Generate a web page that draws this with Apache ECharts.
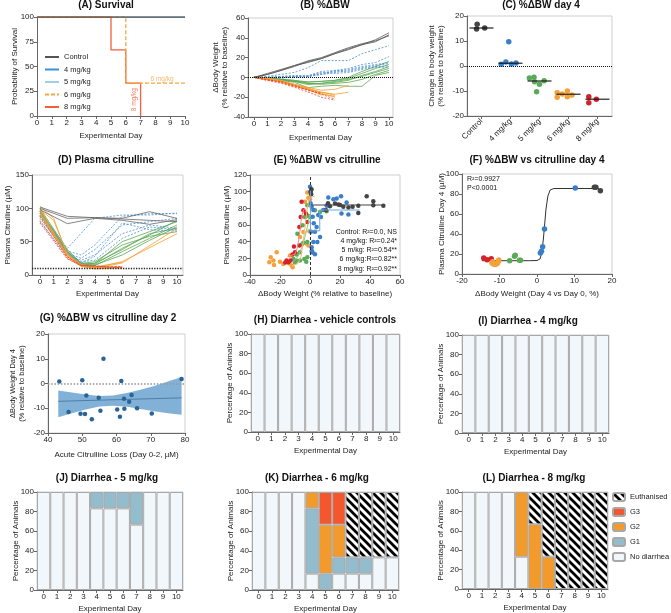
<!DOCTYPE html>
<html><head><meta charset="utf-8">
<script src="https://cdn.jsdelivr.net/npm/echarts@6/dist/echarts.min.js"></script>
<style>html,body{margin:0;padding:0;background:#fff}#c{width:671px;height:613px}</style>
</head><body><div id="c"></div>
<script>
// ---------------- DATA ----------------
// (A) survival
const survCtrl = [[0,100],[10,100]];
const surv4 = [[0,100],[10,100]];
const surv5 = [[0,100],[10,100]];
const surv6 = [[0,100],[6,33.3],[10,33.3]];
const surv8 = [[0,100],[5,66.7],[6,33.3],[7,0]];
const survNames = ['Control','4 mg/kg','5 mg/kg','6 mg/kg','8 mg/kg'];
const survLabel6 = [[8.45,37.4]];
const survLabel8 = [[6.55,16.5]];
const dayTicks = [0,1,2,3,4,5,6,7,8,9,10];

// (B) %ΔBW by day (day 0..n)
const bwCtrl = [
  [0,3,7,11,16,19,24,29,33,38,45],
  [0,4,8,12,16.7,20,25,30,34,37,42],
  [0,3,7,12,15,19,24,28,33,36,43]];
const bw4 = [
  [0,1,3,5,9.8,17,17,17,24,28,32],
  [0,0,1,1,1.8,6,7,9,13,15,21],
  [0,0,0,1,1.3,4,6,8,11,13,15],
  [0,-1,0,0,0.8,3,5,7,10,12,14],
  [0,0,-1,1,0.8,5,4,5,8,10,12],
  [0,0,1,2,1.3,3,7,6,9,11,10]];
const bw5 = [
  [0,-1,-2,-4,-4.8,-4,-3,0,6,11,16],
  [0,-1,-2,-3,-4.5,-4,-3,-1,4,9,13],
  [0,-2,-3,-4,-6.3,-6,-5,-3,2,6,11],
  [0,-1,-2,-4,-7.3,-6,-4,-2,1,5,9],
  [0,-2,-3,-5,-10.3,-9,-8,-9,-9,2,5],
  [0,-1,-2,-3,-5.9,-7,-6,-5,-2,3,7]];
const bw6 = [
  [0,-2,-4,-8,-10.7,-16,-20],
  [0,-2,-5,-9,-12.5,-17,-19],
  [0,-2,-4,-7,-11.2,-15,-17,-15],
  [0,-1,-3,-7,-10,-13,-12,-8],
  [0,-2,-4,-8,-12.3,-18],
  [0,-1,-3,-8,-11.6,-15,-18]];
const bw8 = [
  [0,-3,-6,-10,-14.7,-20,-23],
  [0,-2,-5,-9,-12.3,-17,-22],
  [0,-3,-4,-8,-13.3,-16]];

// (C) %ΔBW day 4
const cCats = ['Control','4 mg/kg','5 mg/kg','6 mg/kg','8 mg/kg'];
const cCtrl = [16.7,14.8,15.2];      const cCtrlJit = [-0.15,-0.17,0.11];
const c4 = [9.7,0.7,1.6,0.8,1.2];    const c4Jit = [-0.06,-0.32,-0.16,0.03,0.19];
const c5 = [-4.8,-4.5,-6.3,-7.3,-10.3,-5.9]; const c5Jit = [-0.35,-0.19,-0.17,0,-0.1,0.16];
const c6 = [-10.7,-12.5,-11.2,-10,-12.3,-11.6]; const c6Jit = [-0.39,-0.39,-0.22,-0.04,-0.04,0.12];
const c8 = [-12.3,-14.7,-13.3];      const c8Jit = [-0.3,-0.3,-0.04];
const cMedian = [15.2,1.1,-6,-11.3,-13.3];

// (D) plasma citrulline [day, µM]
const citCtrl = [
  [[0,102],[2,88],[4,86],[6,85],[8,95],[10,85]],
  [[0,100],[2,85],[4,86],[6,84],[8,82],[10,80]],
  [[0,98],[2,77],[4,85],[6,82],[8,76],[10,83]]];
const cit4 = [
  [[0,95],[2,40],[4,85],[6,90],[8,90],[10,93]],
  [[0,93],[2,36],[3,30],[4,45],[6,88],[8,92],[10,92]],
  [[0,90],[2,33],[3,25],[4,38],[6,75],[8,80],[10,85]],
  [[0,88],[2,30],[3,22],[4,30],[6,62],[8,75],[10,70]],
  [[0,85],[2,32],[3,20],[4,22],[6,55],[8,72],[10,68]],
  [[0,80],[2,28],[3,18],[4,28],[6,78],[8,68],[10,66]]];
const cit5 = [
  [[0,100],[2,38],[3,18],[4,17],[6,50],[8,65],[10,80]],
  [[0,97],[2,36],[3,17],[4,16],[6,40],[8,60],[10,82]],
  [[0,95],[2,34],[3,16],[4,14],[6,35],[8,55],[10,75]],
  [[0,93],[2,33],[3,15],[4,15],[6,30],[8,52],[10,72]],
  [[0,90],[2,32],[3,14],[4,18],[6,38],[8,62],[10,70]],
  [[0,96],[2,35],[3,17],[4,20],[6,45],[8,58],[10,65]]];
const cit6 = [
  [[0,103],[1,85],[2,30],[3,15],[4,10],[6,18],[10,70]],
  [[0,100],[2,28],[3,14],[4,11],[6,20],[10,62]],
  [[0,98],[1,82],[2,32],[3,16],[4,12],[6,19]],
  [[0,95],[2,30],[3,14],[4,10],[5,10],[6,12]],
  [[0,92],[2,28],[3,13],[4,9],[6,11]],
  [[0,90],[2,27],[3,15],[4,12],[6,10]]];
const cit8 = [
  [[0,88],[2,27],[3,15],[4,13],[6,12]],
  [[0,82],[2,25],[3,14],[4,13],[6,11]],
  [[0,78],[2,24],[3,14],[4,14],[5,12],[6,13]]];
const citLLOQ = 10;

// (E) %ΔBW vs citrulline [ΔBW, µM]
const eCtrl = [[0.5,100],[0.8,97],[1,103],[10.7,77.7],[13.3,82.6],[16.7,85.8],[18.9,84.6],[22.2,81.8],[25.6,81],[28.4,81.8],[32.2,83],[32.2,74.5],[37.8,94.6],[42.2,88.6],[42.2,83.8],[48.9,83],[12,86],[20,84]];
const e4 = [[0,106],[0.2,100],[0.4,86],[1.1,82],[2.2,78],[4.4,57.6],[3.3,52],[2.2,39.5],[1.1,33.4],[1.8,27],[3.3,25],[6.7,45.5],[4.9,39.5],[5.5,72],[7.3,69.7],[12.2,93],[15.6,91],[17.8,91.8],[20.7,94.6],[24.4,87],[21,73.7],[25.6,72.5],[8.9,78],[11.1,83],[1.8,70],[0.7,52],[2.5,62],[1.2,29]];
const e5 = [[-8.4,49.5],[-4.9,59.6],[-3.3,69.7],[-1.1,70.9],[0,69.7],[-1.8,39.5],[-4.4,38.7],[-5.5,36.7],[-6.7,27.4],[-8.9,24.6],[-11.1,19.3],[-9.3,17.3],[-6.7,17.3],[-3.8,19.3],[-1.8,21.3],[1.1,28],[3.3,77.7],[6.7,75.7],[11.1,76.5],[-1.8,83.8],[-2.5,16],[-10,15]];
const e6 = [[-26.2,21.3],[-24.4,17.3],[-27.1,15.3],[-22.2,27.4],[-17.8,13.3],[-12.2,11.3],[-11.6,9.3],[-13.3,23.4],[-6.7,45.5],[-4.4,51.6],[-3.3,69.7],[-2.2,37.5],[-1.1,35.5],[-0.4,52.4],[-3.3,87.8],[-1.1,92.6],[-1.8,99],[0,91],[-24,12],[-20,16],[-14,14]];
const e8 = [[-7.1,57.6],[-6.2,69.7],[-4.4,77.7],[-2.7,73.7],[-5.6,87.8],[-10,27.4],[-11.6,24.6],[-15.6,17.3],[-14.4,15.3],[-13,17.3],[-7.1,35.4],[-10.7,34.2],[-1.8,63.6],[-16.5,15]];
const eFitCtrl = [[1,84],[50,84]];
const eFit4 = [[0.3,101],[0.3,53],[6.5,53],[6.5,78],[33,78]];
const eFit5 = [[-12,15],[-8,22],[-5,35],[-3,48],[-1.5,60],[-0.5,70],[0.5,75]];
const eFit6 = [[-12,11],[-8,14],[-6,22],[-4.5,40],[-3,62],[-2,78],[-1,88],[0,92],[3,95]];
const eFit8 = [[-15,22],[-10,25],[-8.5,32],[-7,48],[-6,64],[-5,75],[-3.5,80]];
const eStats = ['Control: R²=0.0, NS','4 mg/kg: R²=0.24*','5 m/kg: R²=0.54**','6 mg/kg:R²=0.82**','8 mg/kg: R²=0.92**'];

// (F) day 4
const fCtrl = [[15.3,86.7],[15.7,86.7],[16.9,83.3]];
const f4 = [[0.9,21],[1.2,22.7],[1.5,27.3],[2,45],[10.2,86]];
const f5 = [[-7.3,13.3],[-6,17.7],[-5.8,18.7],[-4.7,13.7],[-4.4,13.7]];
const f6 = [[-12,11],[-11.6,10],[-11.1,9.5],[-10.6,10.5],[-10.3,12.5],[-10.2,14],[-11.8,12.3]];
const f8 = [[-14.2,16],[-13.3,14.3],[-12.2,15.3]];
const fFit = [[-14.7,13.3],[-2,13.3],[0,13.5],[0.8,15],[1.3,22],[1.7,35],[2,48],[2.4,65],[2.9,78],[3.5,84],[4.5,85.5],[16.5,85.5]];
const fStats = ['R²=0.9927','P<0.0001'];

// (G) ΔBW day 4 vs acute citrulline loss
const gPts = [[43.3,0.8],[46,-11.5],[49.5,-12.2],[50,1.3],[50.8,-12.3],[51.2,-4.8],[52.8,-14.4],[54.8,-5.8],[55.3,-11],[56.2,10],[60.2,-10.5],[61,-13.4],[61.4,1],[62.2,-6.2],[62.3,-10.2],[63.7,-7.4],[64.4,-4.6],[66,-10],[70.3,-12.1],[79,1.8]];
const gFit = [[43,-7.2],[79,-5.8]];
const gBandX  = [43,47,51,55,59,63,67,71,75,79];
const gBandHi = [-2.8,-3.6,-4.4,-5.0,-4.8,-3.8,-2.5,-1.0,0.8,2.6];
const gBandLo = [-13.6,-12.0,-10.5,-9.3,-9.0,-9.4,-10.3,-11.2,-12.0,-12.6];

// (H)-(L) diarrhea (% of animals) per day
const days = ['0','1','2','3','4','5','6','7','8','9','10'];
const hNo = [100,100,100,100,100,100,100,100,100,100,100];
const iNo = [100,100,100,100,100,100,100,100,100,100,100];
const jNo = [100,100,100,100,83.3,83.3,83.3,66.7,100,100,100];
const jG1 = [0,0,0,0,16.7,16.7,16.7,33.3,0,0,0];
const kNo = [100,100,100,100,16.7,0,16.7,16.7,16.7,33.3,33.3];
const kG1 = [0,0,0,0,66.6,16.7,16.6,16.6,16.6,0,0];
const kG2 = [0,0,0,0,16.7,50,33.4,0,0,0,0];
const kG3 = [0,0,0,0,0,33.3,33.3,0,0,0,0];
const kEu = [0,0,0,0,0,0,0,66.7,66.7,66.7,66.7];
const lNo = [100,100,100,100,33.3,0,0,0,0,0,0];
const lG2 = [0,0,0,0,66.7,66.7,33.3,0,0,0,0];
const lEu = [0,0,0,0,0,33.3,66.7,100,100,100,100];
const diarNames = ['Euthanised','G3','G2','G1','No diarrhea'];

// ---------------- STYLE / BUILD ----------------
const FONT = '"Liberation Sans", Arial, Helvetica, sans-serif';
const AXC = '#666', FRC = '#cfcfcf', TXT = '#222';
const COL = {ctrl:'#4a4a4a', b:'#3d86c8', g:'#5aa852', o:'#f5a030', r:'#e0302c'};

const grids=[], xAxes=[], yAxes=[], series=[], titles=[];
function addGrid(l,t,w,h,frame){grids.push({left:l,top:t,width:w,height:h,show:frame!==false,borderColor:FRC,borderWidth:1,backgroundColor:'transparent',containLabel:false,outerBoundsMode:'none'});return grids.length-1;}
function axis(o){
  const a={gridIndex:o.grid,type:o.type||'value',show:o.show!==false,
    name:o.name||'',nameLocation:'middle',nameGap:o.nameGap||14,nameMoveOverlap:false,
    nameTextStyle:{fontSize:o.nameSize||8,color:TXT,fontFamily:FONT,lineHeight:o.nameLH||9},
    axisLine:{show:true,onZero:false,lineStyle:{color:AXC,width:1}},
    axisTick:{show:true,length:3,inside:false,alignWithLabel:true,lineStyle:{color:AXC,width:1}},
    axisLabel:{fontSize:8,color:TXT,fontFamily:FONT,margin:o.margin||3,rotate:o.rotate||0,interval:0,showMinLabel:true,showMaxLabel:true},
    splitLine:{show:false}};
  if(o.min!==undefined)a.min=o.min;
  if(o.max!==undefined)a.max=o.max;
  if(o.interval!==undefined)a.interval=o.interval;
  if(o.data)a.data=o.data;
  if(o.ticks){a.axisLabel.customValues=o.ticks;a.axisTick.customValues=o.ticks;}
  return a;
}
function addX(o){xAxes.push(axis(o));return xAxes.length-1;}
function addY(o){yAxes.push(axis(o));return yAxes.length-1;}
function title(text,cx,top){titles.push({text,left:cx,top,textAlign:'center',padding:0,textStyle:{fontSize:10,fontWeight:'bold',color:'#111',fontFamily:FONT}});}
function line(xi,yi,data,color,o){o=o||{};const s={type:'line',name:o.name,xAxisIndex:xi,yAxisIndex:yi,data,symbol:'none',showSymbol:false,silent:true,animation:false,z:o.z||2,
  lineStyle:{color,width:o.width||1,type:o.dash||'solid'},itemStyle:{color}};if(o.step)s.step=o.step;return s;}
function scat(xi,yi,data,color,size,o){o=o||{};return {type:'scatter',xAxisIndex:xi,yAxisIndex:yi,data,symbol:o.symbol||'circle',symbolSize:size,silent:true,animation:false,z:o.z||4,itemStyle:{color,opacity:1}};}
function refLine(xi,yi,spec,color,width,type){return {type:'line',xAxisIndex:xi,yAxisIndex:yi,data:[],silent:true,animation:false,z:1,
  markLine:{silent:true,symbol:['none','none'],animation:false,label:{show:false},lineStyle:{color,width,type},data:[spec]}};}
const byDay = arr => arr.map((v,i)=>[i,v]);

// ---- (A)
{
  const g=addGrid(37,17,148,99,false);
  const x=addX({grid:g,min:0,max:10,interval:1,name:'Experimental Day',nameGap:15});
  const y=addY({grid:g,min:0,max:100,interval:25,name:'Probability of Survival',nameGap:18});
  series.push(line(x,y,surv4,'#3d8fd9',{name:survNames[1],step:'end'}));
  series.push(line(x,y,surv5,'#9fcfe6',{name:survNames[2],step:'end'}));
  series.push(line(x,y,surv8,'#f0603a',{name:survNames[4],step:'end',width:1.3}));
  series.push(line(x,y,surv6,'#f5a742',{name:survNames[3],step:'end',dash:[4,2],width:1.3}));
  series.push(line(x,y,survCtrl,'#555',{name:survNames[0],step:'end',width:1.3,z:5}));
  series.push({type:'scatter',xAxisIndex:x,yAxisIndex:y,data:survLabel6,symbolSize:0,silent:true,animation:false,
    label:{show:true,position:'inside',formatter:'6 mg/kg',color:'#f5a742',fontSize:6.5,fontFamily:FONT}});
  series.push({type:'scatter',xAxisIndex:x,yAxisIndex:y,data:survLabel8,symbolSize:0,silent:true,animation:false,
    label:{show:true,position:'inside',formatter:'8 mg/kg',rotate:90,color:'#f0603a',fontSize:6.5,fontFamily:FONT}});
  title('(A) Survival',106,0);
}
// ---- (B)
{
  const g=addGrid(248,18,145,99);
  const x=addX({grid:g,min:-0.44,max:10.3,ticks:dayTicks,name:'Experimental Day',nameGap:16});
  const y=addY({grid:g,min:-40,max:60,interval:20,name:'ΔBody Weight\n(% relative to baseline)',nameGap:19});
  series.push(refLine(x,y,{yAxis:0},'#111',1,'dotted'));
  bw5.forEach(a=>series.push(line(x,y,byDay(a),COL.g,{width:0.8})));
  bw4.forEach(a=>series.push(line(x,y,byDay(a),'#4b8fd0',{width:0.8,dash:[2,1.5]})));
  bw6.forEach(a=>series.push(line(x,y,byDay(a),COL.o,{width:0.8})));
  bw8.forEach(a=>series.push(line(x,y,byDay(a),'#e8423a',{width:0.8,dash:[2,1.5]})));
  bwCtrl.forEach(a=>series.push(line(x,y,byDay(a),'#555',{width:0.8})));
  title('(B) %ΔBW',325,0);
}
// ---- (C)
{
  const g=addGrid(467,16,145,100);
  const x=addX({grid:g,type:'category',data:cCats,rotate:45,margin:4});
  xAxes[x].boundaryGap=true;
  const xv=addX({grid:g,min:-0.5,max:4.5,show:false});
  const y=addY({grid:g,min:-20,max:20,interval:10,name:'Change in body weight\n(% relative to baseline)',nameGap:22});
  series.push(refLine(xv,y,{yAxis:0},'#111',1,'dotted'));
  const groups=[[cCtrl,cCtrlJit,'#444'],[c4,c4Jit,'#3a7dc8'],[c5,c5Jit,'#5aaa5a'],[c6,c6Jit,'#f5a03a'],[c8,c8Jit,'#d8202a']];
  groups.forEach(([v,j,c],gi)=>series.push(scat(xv,y,v.map((val,k)=>[gi+j[k],val]),c,5.5)));
  series.push({type:'scatter',xAxisIndex:xv,yAxisIndex:y,data:cMedian.map((m,i)=>[i,m]),symbol:'rect',symbolSize:[24,1.4],silent:true,animation:false,z:6,itemStyle:{color:'#111'}});
  title('(C) %ΔBW day 4',541,0);
}
// ---- (D)
{
  const g=addGrid(32,175,151,100);
  const x=addX({grid:g,min:-0.58,max:10.44,ticks:dayTicks,name:'Experimental Day',nameGap:14});
  const y=addY({grid:g,min:0,max:150,interval:50,name:'Plasma Citrulline (µM)',nameGap:20});
  series.push(refLine(x,y,{yAxis:citLLOQ},'#222',1.3,'dotted'));
  cit5.forEach(a=>series.push(line(x,y,a,COL.g,{width:0.8})));
  cit4.forEach(a=>series.push(line(x,y,a,'#4b8fd0',{width:0.8,dash:[2,1.5]})));
  cit6.forEach(a=>series.push(line(x,y,a,COL.o,{width:0.8})));
  cit8.forEach(a=>series.push(line(x,y,a,'#e8423a',{width:0.8,dash:[2,1.5]})));
  citCtrl.forEach(a=>series.push(line(x,y,a,'#666',{width:0.8})));
  title('(D) Plasma citrulline',106,155);
}
// ---- (E)
{
  const g=addGrid(250,175,150,100);
  const x=addX({grid:g,min:-40,max:60,interval:20,name:'ΔBody Weight (% relative to baseline)',nameGap:14});
  const y=addY({grid:g,min:0,max:120,interval:20,name:'Plasma Citrulline (µM)',nameGap:19});
  series.push(refLine(x,y,{xAxis:0},'#333',1,[3,2]));
  series.push(scat(x,y,e6,'#f5a03a',4.5));
  series.push(scat(x,y,e5,'#5aaa5a',4.5));
  series.push(scat(x,y,e8,'#d8202a',4.5));
  series.push(scat(x,y,e4,'#3a7dc8',4.5));
  series.push(scat(x,y,eCtrl,'#444',4.5));
  series.push(line(x,y,eFitCtrl,'#444',{width:1,z:5}));
  series.push(line(x,y,eFit4,'#6fa6dc',{width:1,z:5}));
  series.push(line(x,y,eFit5,'#8cc98a',{width:1,z:5}));
  series.push(line(x,y,eFit6,'#f7bb70',{width:1,z:5}));
  series.push(line(x,y,eFit8,'#f28b7e',{width:1,z:5}));
  titles.push({text:eStats.join('\n'),left:397,top:227,textAlign:'right',padding:0,textStyle:{fontSize:7,lineHeight:9.3,color:'#111',fontFamily:FONT,fontWeight:'normal'}});
  title('(E) %ΔBW vs citrulline',327,155);
}
// ---- (F)
{
  const g=addGrid(462,174,150,100);
  const x=addX({grid:g,min:-20,max:20,interval:10,name:'ΔBody Weight (Day 4 vs Day 0, %)',nameGap:15});
  const y=addY({grid:g,min:0,max:100,interval:20,name:'Plasma Citrulline Day 4 (µM)',nameGap:16});
  series.push(line(x,y,fFit,'#333',{width:1,z:3}));
  series.push(scat(x,y,f8,'#d8202a',5.5));
  series.push(scat(x,y,f6,'#f5a03a',5.5));
  series.push(scat(x,y,f5,'#5aaa5a',5.5));
  series.push(scat(x,y,f4,'#3a7dc8',5.5));
  series.push(scat(x,y,fCtrl,'#444',5.5));
  titles.push({text:fStats.join('\n'),left:467,top:175,padding:0,textStyle:{fontSize:7,lineHeight:9,color:'#111',fontFamily:FONT,fontWeight:'normal'}});
  title('(F) %ΔBW vs citrulline day 4',537,155);
}
// ---- (G)
{
  const g=addGrid(48,334,137,99);
  const x=addX({grid:g,min:40,max:80,interval:10,name:'Acute Citrulline Loss (Day 0-2, µM)',nameGap:17});
  const y=addY({grid:g,min:-20,max:20,interval:10,name:'ΔBody Weight Day 4\n(% relative to baseline)',nameGap:22,nameSize:7.5});
  series.push(refLine(x,y,{yAxis:0},'#999',1.6,'dotted'));
  series.push({type:'custom',xAxisIndex:x,yAxisIndex:y,silent:true,animation:false,z:2,
    data:gBandX.map((v,i)=>[v,gBandLo[i],gBandHi[i]]),encode:{x:0,y:[1,2]},
    renderItem:function(params,api){
      if(params.dataIndex!==0)return null;
      const pts=[];
      for(let i=0;i<gBandX.length;i++)pts.push(api.coord([gBandX[i],gBandHi[i]]));
      for(let i=gBandX.length-1;i>=0;i--)pts.push(api.coord([gBandX[i],gBandLo[i]]));
      return {type:'polygon',shape:{points:pts},style:{fill:'#74a9d3',opacity:0.9}};
    }});
  series.push(line(x,y,gFit,'#4d7fa8',{width:1,z:3}));
  series.push(scat(x,y,gPts,'#2a6397',4.5));
  title('(G) %ΔBW vs citrulline day 2',108,313);
}
// ---- (H)-(L)
const hatchCanvas=(function(){const s=8,c=document.createElement('canvas');c.width=s;c.height=s;const g=c.getContext('2d');
  g.fillStyle='#fff';g.fillRect(0,0,s,s);g.strokeStyle='#000';g.lineWidth=2.7;
  [-s,0,s].forEach(o=>{g.beginPath();g.moveTo(o-1,-1);g.lineTo(o+s+1,s+1);g.stroke();});return c;})();
const DC={'No diarrhea':'#f2f7fb','G1':'#93bccd','G2':'#f39a2c','G3':'#f4562d','Euthanised':{image:hatchCanvas,repeat:'repeat'}};
function barPanel(l,t,w,h,ttl,cx,sets,stack){
  const g=addGrid(l,t,w,h);
  const x=addX({grid:g,type:'category',data:days,name:'Experimental Day',nameGap:14});
  xAxes[x].boundaryGap=true;
  const y=addY({grid:g,min:0,max:100,interval:20,name:'Percentage of Animals',nameGap:17});
  sets.forEach(([name,vals])=>series.push({type:'bar',name,xAxisIndex:x,yAxisIndex:y,stack,barCategoryGap:'0%',barGap:'0%',
    data:vals.map(v=>v>0?v:null),silent:true,animation:false,itemStyle:{color:DC[name],borderColor:'#a8a8a8',borderWidth:1}}));
  title(ttl,cx,t-19);
}
barPanel(251,334,149,98,'(H) Diarrhea - vehicle controls',325,[['No diarrhea',hNo]],'h');
barPanel(462,335,147,98,'(I) Diarrhea - 4 mg/kg',528,[['No diarrhea',iNo]],'i');
barPanel(37,492,146,98,'(J) Diarrhea - 5 mg/kg',107,[['No diarrhea',jNo],['G1',jG1]],'j');
barPanel(252,492,147,98,'(K) Diarrhea - 6 mg/kg',317,[['No diarrhea',kNo],['G1',kG1],['G2',kG2],['G3',kG3],['Euthanised',kEu]],'k');
barPanel(462,492,146,97,'(L) Diarrhea - 8 mg/kg',534,[['No diarrhea',lNo],['G2',lG2],['Euthanised',lEu]],'l');

const option={
  animation:false,backgroundColor:'#fff',
  textStyle:{fontFamily:FONT},
  title:titles,grid:grids,xAxis:xAxes,yAxis:yAxes,series,
  legend:[
    {left:44,top:53,orient:'vertical',itemWidth:14,itemHeight:8,itemGap:4.5,selectedMode:false,padding:0,
     itemStyle:{opacity:0},
     data:survNames,textStyle:{fontSize:7.5,color:TXT,fontFamily:FONT}},
    {left:612,top:492,orient:'vertical',itemWidth:12,itemHeight:8,itemGap:5,itemTextGap:5,selectedMode:false,padding:0,
     data:diarNames,textStyle:{fontSize:7.5,color:TXT,fontFamily:FONT}}
  ]
};
const chart=echarts.init(document.getElementById('c'),null,{renderer:'canvas'});
chart.setOption(option);
</script></body></html>
